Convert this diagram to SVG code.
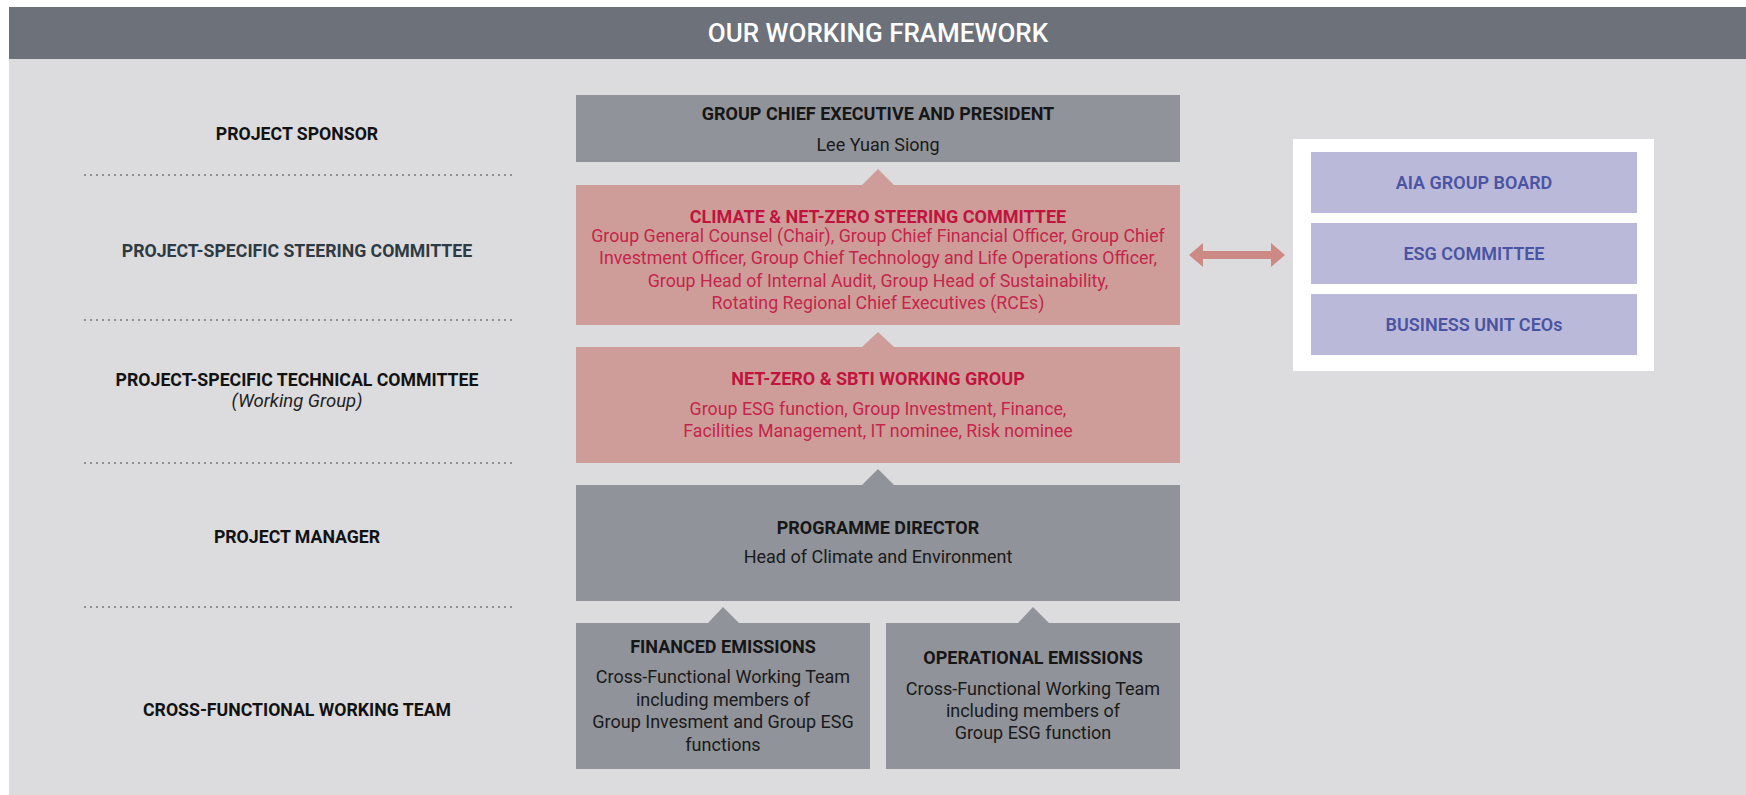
<svg xmlns="http://www.w3.org/2000/svg" width="1746" height="795" viewBox="0 0 1746 795">
<style>
text{font-family:Roboto,"Liberation Sans",sans-serif;text-anchor:middle}
.h{font-size:18px;font-weight:700;fill:#161616}
.b{font-size:18px;font-weight:400;fill:#1a1a1a}
.lbl{font-size:17.7px;font-weight:700;fill:#121212}
.lbl2{font-size:17.7px;font-weight:700;fill:#2e3a44}
.it{font-size:18.5px;font-style:italic;fill:#222}
.rh{font-size:18px;font-weight:700;fill:#c0143e}
.rb{font-size:17.8px;font-weight:400;fill:#c4254b}
.pu{font-size:18px;font-weight:600;fill:#4a54a1}
.gray{fill:#909399}
.pink{fill:#ce9d99}
.pbox{fill:#bbb9da}
.dots{stroke:#8d9095;stroke-width:2;stroke-dasharray:2 4}
</style>
<rect x="0" y="0" width="1746" height="795" fill="#ffffff"/>
<rect x="9" y="59" width="1737" height="736" fill="#dcdcde"/>
<rect x="9" y="7" width="1737" height="52" fill="#6c717a"/>
<text x="878" y="42" style="font-size:26px;font-weight:500;fill:#ffffff">OUR WORKING FRAMEWORK</text>

<g id="row-labels">
<text class="lbl" x="297" y="140">PROJECT SPONSOR</text>
<text class="lbl2" x="297" y="257">PROJECT-SPECIFIC STEERING COMMITTEE</text>
<text class="lbl" x="297" y="386">PROJECT-SPECIFIC TECHNICAL COMMITTEE</text>
<text class="it" x="297" y="407">(Working Group)</text>
<text class="lbl" x="297" y="543">PROJECT MANAGER</text>
<text class="lbl" x="297" y="716">CROSS-FUNCTIONAL WORKING TEAM</text>
<line class="dots" x1="84" y1="175" x2="512" y2="175"/>
<line class="dots" x1="84" y1="320" x2="512" y2="320"/>
<line class="dots" x1="84" y1="463" x2="512" y2="463"/>
<line class="dots" x1="84" y1="607" x2="512" y2="607"/>
</g>

<g id="gce">
<rect class="gray" x="576" y="95" width="604" height="67"/>
<text class="h" x="878" y="120">GROUP CHIEF EXECUTIVE AND PRESIDENT</text>
<text class="b" x="878" y="151">Lee Yuan Siong</text>
</g>

<g id="steering">
<rect class="pink" x="576" y="185" width="604" height="140"/>
<text class="rh" x="878" y="223">CLIMATE &amp; NET-ZERO STEERING COMMITTEE</text>
<text class="rb" x="878" y="242">Group General Counsel (Chair), Group Chief Financial Officer, Group Chief</text>
<text class="rb" x="878" y="264">Investment Officer, Group Chief Technology and Life Operations Officer,</text>
<text class="rb" x="878" y="287">Group Head of Internal Audit, Group Head of Sustainability,</text>
<text class="rb" x="878" y="309">Rotating Regional Chief Executives (RCEs)</text>
</g>

<g id="working-group">
<rect class="pink" x="576" y="347" width="604" height="116"/>
<text class="rh" x="878" y="385">NET-ZERO &amp; SBTI WORKING GROUP</text>
<text class="rb" x="878" y="415">Group ESG function, Group Investment, Finance,</text>
<text class="rb" x="878" y="437">Facilities Management, IT nominee, Risk nominee</text>
</g>

<g id="programme-director">
<rect class="gray" x="576" y="485" width="604" height="116"/>
<text class="h" x="878" y="534">PROGRAMME DIRECTOR</text>
<text class="b" x="878" y="563">Head of Climate and Environment</text>
</g>

<g id="financed">
<rect class="gray" x="576" y="623" width="294" height="146"/>
<text class="h" x="723" y="653">FINANCED EMISSIONS</text>
<text class="b" x="723" y="683">Cross-Functional Working Team</text>
<text class="b" x="723" y="706">including members of</text>
<text class="b" x="723" y="728">Group Invesment and Group ESG</text>
<text class="b" x="723" y="751">functions</text>
</g>

<g id="operational">
<rect class="gray" x="886" y="623" width="294" height="146"/>
<text class="h" x="1033" y="664">OPERATIONAL EMISSIONS</text>
<text class="b" x="1033" y="695">Cross-Functional Working Team</text>
<text class="b" x="1033" y="717">including members of</text>
<text class="b" x="1033" y="739">Group ESG function</text>
</g>

<g id="governance">
<rect x="1293" y="139" width="361" height="232" fill="#ffffff"/>
<rect class="pbox" x="1311" y="152" width="326" height="61"/>
<text class="pu" x="1474" y="189">AIA GROUP BOARD</text>
<rect class="pbox" x="1311" y="223" width="326" height="61"/>
<text class="pu" x="1474" y="260">ESG COMMITTEE</text>
<rect class="pbox" x="1311" y="294" width="326" height="61"/>
<text class="pu" x="1474" y="331">BUSINESS UNIT CEOs</text>
</g>

<g id="connectors">
<polygon class="pink" points="878,169 862,185 894,185"/>
<polygon class="pink" points="878,332 862,347 894,347"/>
<polygon class="gray" points="878,469 862,485 894,485"/>
<polygon class="gray" points="723,607 708,623 739,623"/>
<polygon class="gray" points="1033,607 1018,623 1049,623"/>
<polygon fill="#cd8a85" points="1189,255 1203,243 1203,251 1271,251 1271,243 1285,255 1271,267 1271,259 1203,259 1203,267"/>
</g>
</svg>
